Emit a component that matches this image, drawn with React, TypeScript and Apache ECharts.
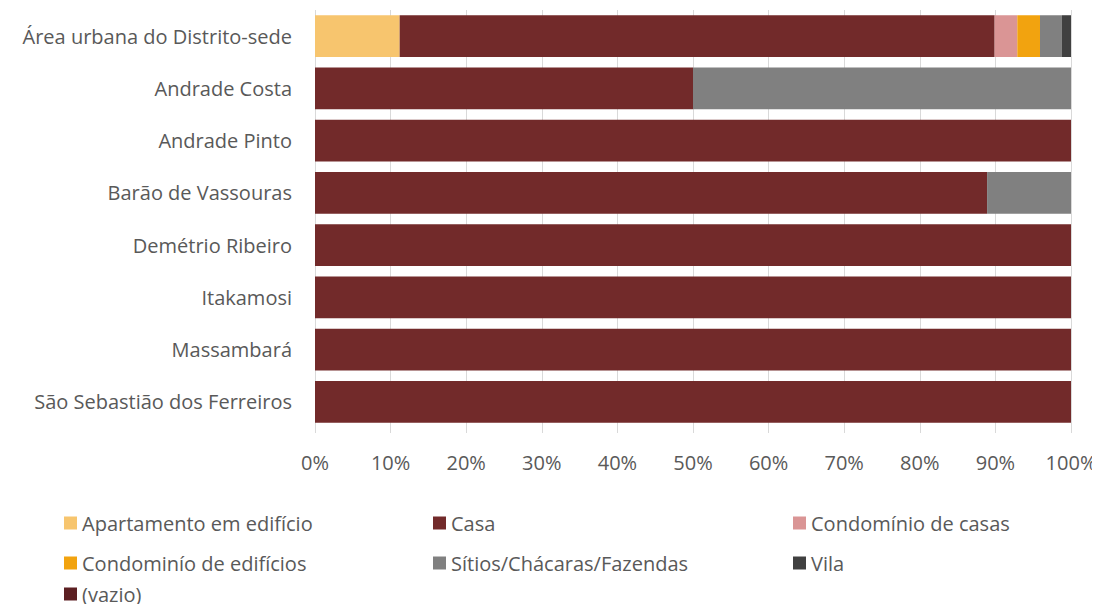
import React, { useEffect, useRef } from "react";
import * as echarts from "echarts";

const categories = [
  "Área urbana do Distrito-sede",
  "Andrade Costa",
  "Andrade Pinto",
  "Barão de Vassouras",
  "Demétrio Ribeiro",
  "Itakamosi",
  "Massambará",
  "São Sebastião dos Ferreiros",
];

const seriesNames = [
  "Apartamento em edifício",
  "Casa",
  "Condomínio de casas",
  "Condominío de edifícios",
  "Sítios/Chácaras/Fazendas",
  "Vila",
  "(vazio)",
];

const apartamento = [11.2, 0, 0, 0, 0, 0, 0, 0];
const casa = [78.7, 50, 100, 88.9, 100, 100, 100, 100];
const condCasas = [3.0, 0, 0, 0, 0, 0, 0, 0];
const condEdificios = [3.0, 0, 0, 0, 0, 0, 0, 0];
const sitios = [2.9, 50, 0, 11.1, 0, 0, 0, 0];
const vila = [1.2, 0, 0, 0, 0, 0, 0, 0];
const vazio = [0, 0, 0, 0, 0, 0, 0, 0];

const seriesValues = [apartamento, casa, condCasas, condEdificios, sitios, vila, vazio];
const colors = ["#F7C56E", "#722A2A", "#DA9595", "#F2A30F", "#808080", "#404040", "#5C1F22"];

const FONT = "Open Sans";
const TEXT_COLOR = "#595959";
const FS = 20;

export default function App() {
  const ref = useRef<HTMLDivElement>(null);
  useEffect(() => {
    if (!ref.current) return;
    const chart = echarts.init(ref.current, undefined, { renderer: "svg" });
    const colX = [64, 433, 793];
    const rowY = [512, 552, 583];
    const legendPos = [
      [0, 0], // Apartamento
      [1, 0], // Casa
      [2, 0], // Cond casas
      [0, 1], // Cond edif
      [1, 1], // Sítios
      [2, 1], // Vila
      [0, 2], // vazio
    ];
    const legends = seriesNames.map((name, i) => ({
      orient: "horizontal" as const,
      left: colX[legendPos[i][0]],
      top: rowY[legendPos[i][1]],
      padding: 0,
      itemWidth: 13,
      itemHeight: 13,
      icon: "rect",
      data: [name],
      textStyle: { fontFamily: FONT, fontSize: FS, color: TEXT_COLOR, lineHeight: 22 },
    }));
    chart.setOption({
      animation: false,
      color: colors,
      grid: { left: 315, right: 29, top: 10, bottom: 184, containLabel: false },
      legend: legends,
      xAxis: {
        type: "value",
        min: 0,
        max: 100,
        interval: 10,
        axisLabel: {
          formatter: "{value}%",
          fontFamily: FONT,
          fontSize: FS,
          color: TEXT_COLOR,
          margin: 24,
        },
        axisLine: { show: false },
        axisTick: { show: true, length: 5, lineStyle: { color: "#d9d9d9" } },
        splitLine: { show: true, lineStyle: { color: "#d9d9d9", width: 1 } },
      },
      yAxis: {
        type: "category",
        inverse: true,
        data: categories,
        axisLine: { show: false },
        axisTick: { show: false },
        axisLabel: { fontFamily: FONT, fontSize: FS, color: TEXT_COLOR, margin: 23 },
      },
      series: seriesNames.map((name, i) => ({
        name,
        type: "bar",
        stack: "total",
        barCategoryGap: "20%",
        data: seriesValues[i],
        itemStyle: { color: colors[i] },
      })),
    });
    return () => chart.dispose();
  }, []);
  return <div ref={ref} style={{ width: 1100, height: 612, margin: -8 }} />;
}
